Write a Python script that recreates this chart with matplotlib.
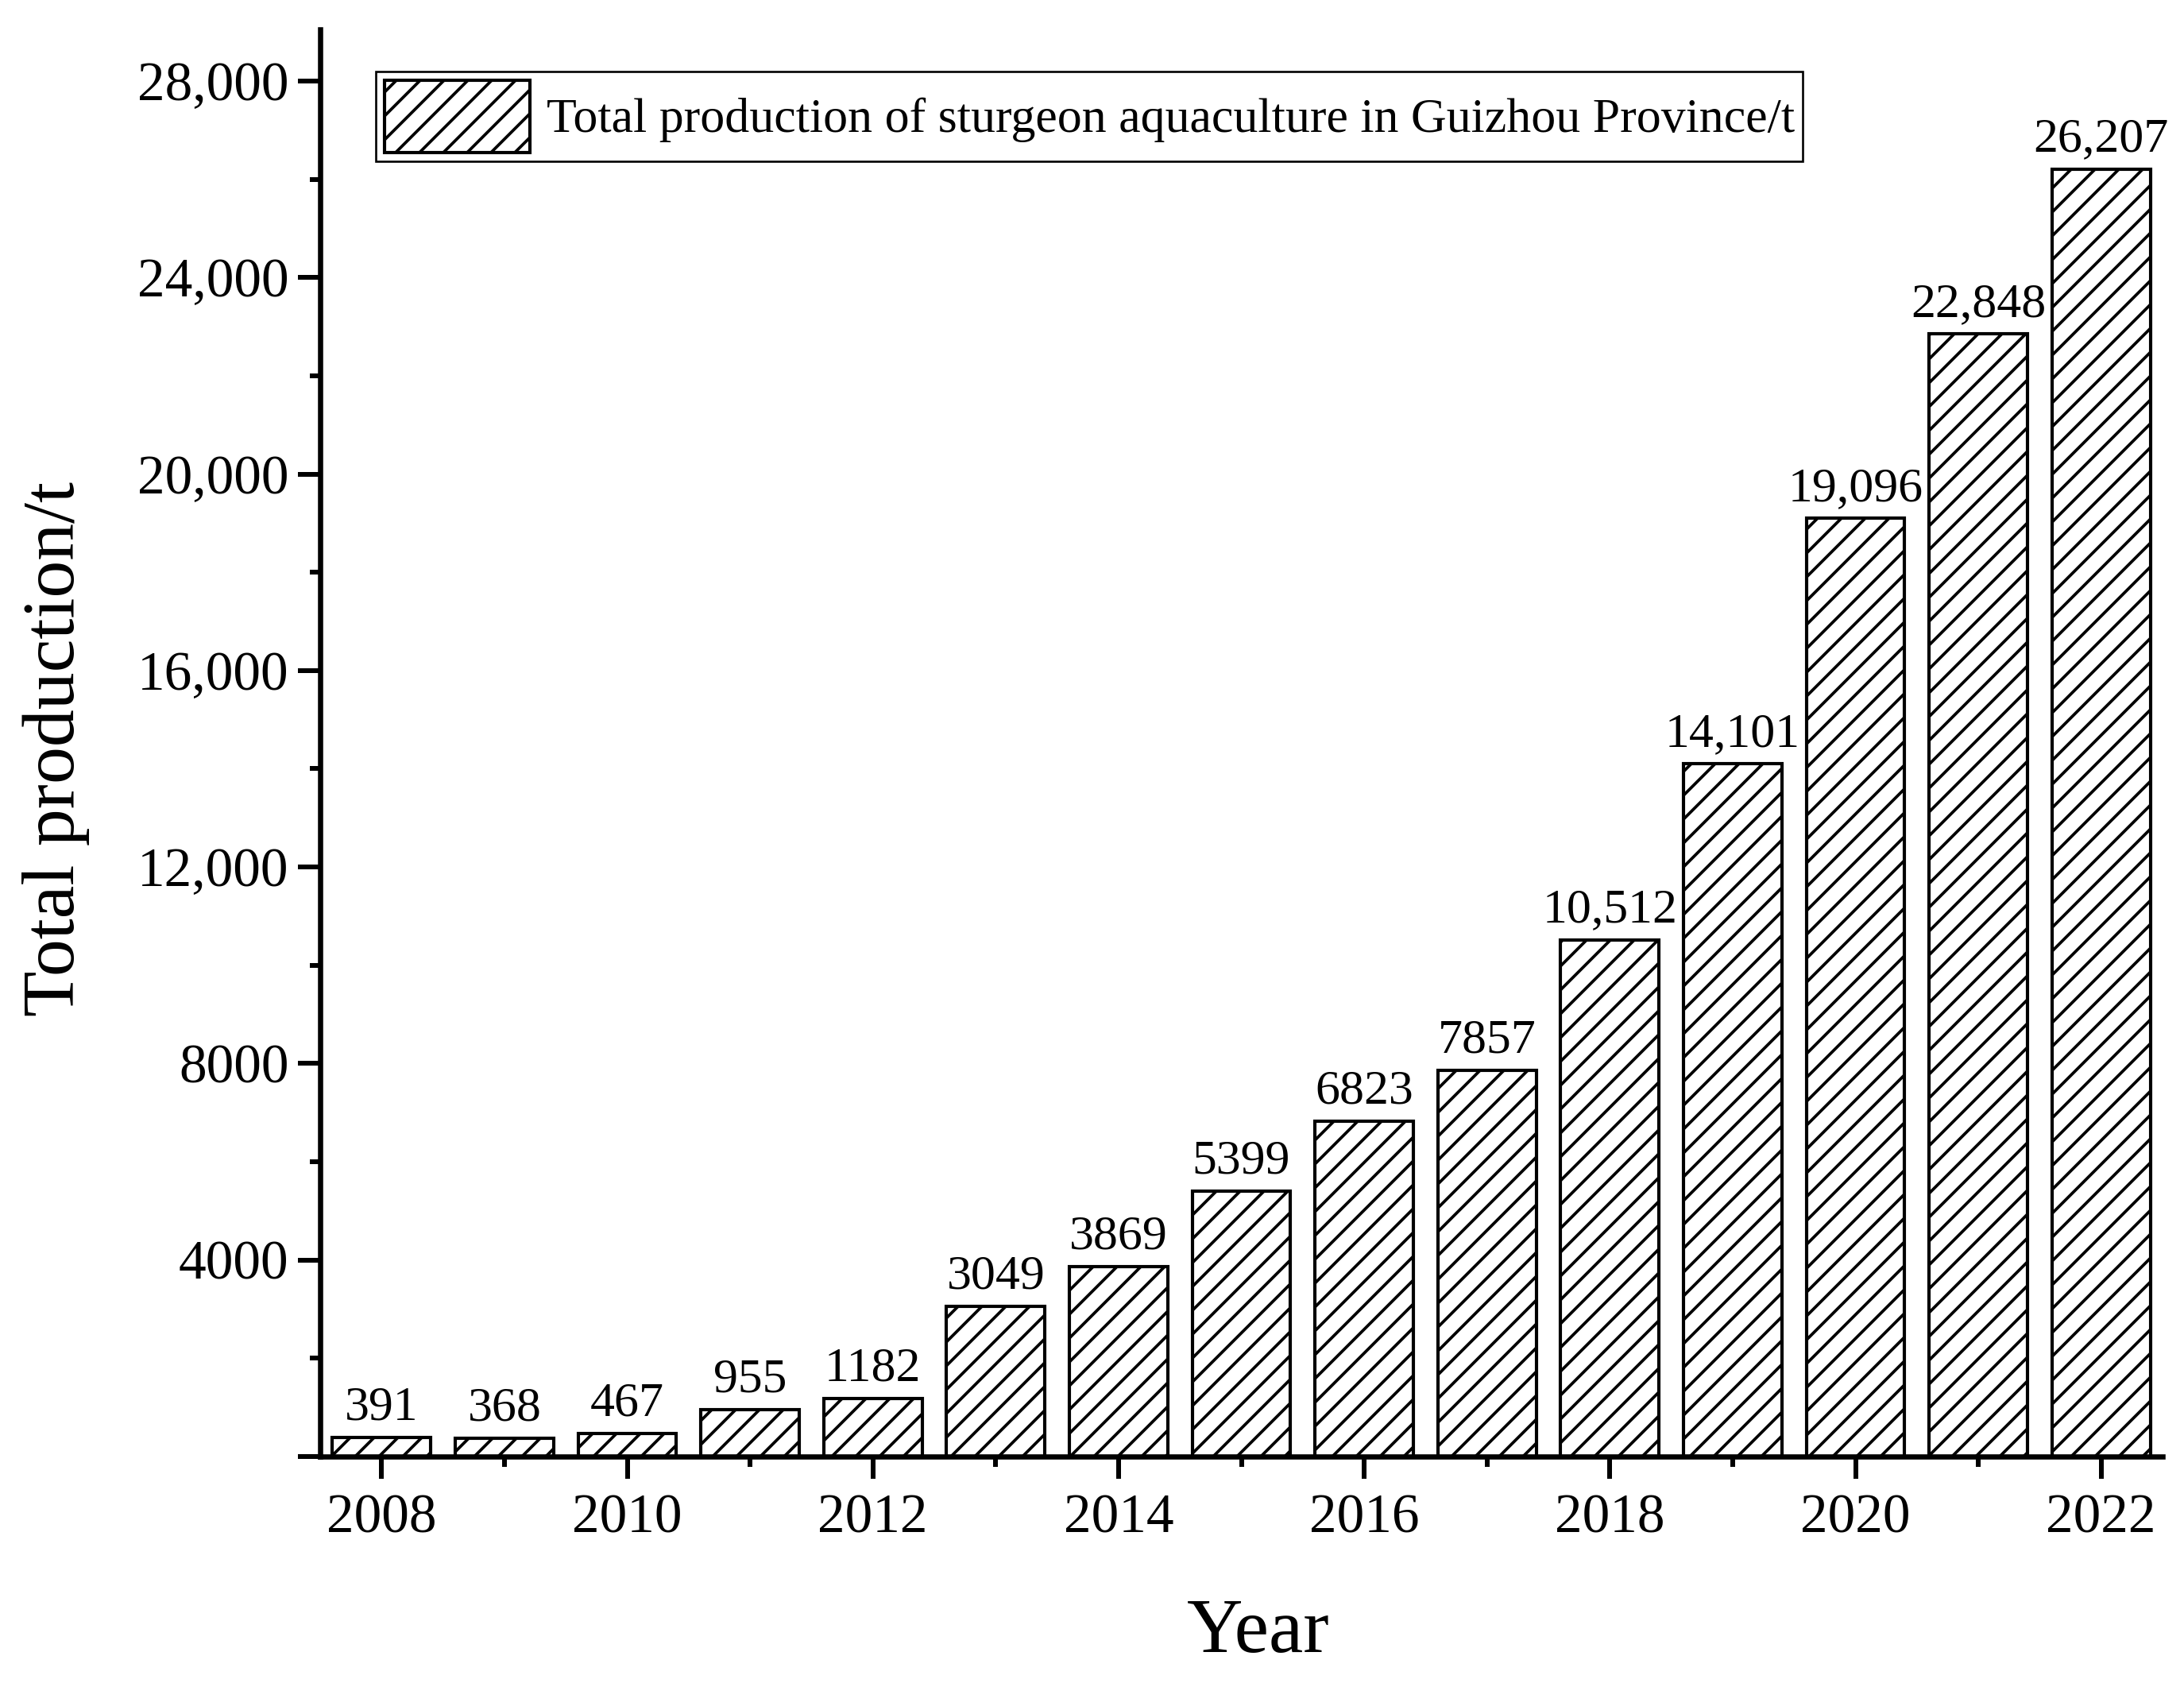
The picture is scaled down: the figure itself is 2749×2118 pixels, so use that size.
import matplotlib
matplotlib.use('Agg')
import matplotlib.pyplot as plt
from matplotlib.ticker import FixedLocator

DPI = 360
K = 270 / DPI  # sizes below were tuned at 270 dpi

plt.rcParams['font.family'] = ['Liberation Serif', 'DejaVu Serif']
plt.rcParams['hatch.linewidth'] = 1.0 * K

# ---- data ----
years = [2008, 2009, 2010, 2011, 2012, 2013, 2014, 2015,
         2016, 2017, 2018, 2019, 2020, 2021, 2022]
production = [391, 368, 467, 955, 1182, 3049, 3869, 5399,
              6823, 7857, 10512, 14101, 19096, 22848, 26207]
bar_labels = ['391', '368', '467', '955', '1182', '3049', '3869', '5399',
              '6823', '7857', '10,512', '14,101', '19,096', '22,848', '26,207']
xtick_years = [2008, 2010, 2012, 2014, 2016, 2018, 2020, 2022]
xminor_years = [2009, 2011, 2013, 2015, 2017, 2019, 2021]
ytick_values = [0, 4000, 8000, 12000, 16000, 20000, 24000, 28000]
ytick_labels = ['', '4000', '8000', '12,000', '16,000', '20,000', '24,000', '28,000']
yminor_values = [2000, 6000, 10000, 14000, 18000, 22000, 26000]
legend_label = 'Total production of sturgeon aquaculture in Guizhou Province/t'
x_label = 'Year'
y_label = 'Total production/t'

W, H = 2749, 2118
fig = plt.figure(figsize=(W / DPI, H / DPI), dpi=DPI)
L, R, B, T = 403, 2722, 1833, 37
ax = fig.add_axes([L / W, 1 - B / H, (R - L) / W, (B - T) / H])

ax.bar(years, production, width=0.8, color='white', edgecolor='black',
       linewidth=1.1 * K, hatch='////', label=legend_label, zorder=2)

for x, v, lab in zip(years, production, bar_labels):
    ax.annotate(lab, (x, v), xytext=(0, 6 * K), textcoords='offset points',
                ha='center', va='baseline', fontsize=16.5 * K)

ax.set_xlim(2007.5, 2022.5)
ax.set_ylim(0, 29050)

ax.xaxis.set_major_locator(FixedLocator(xtick_years))
ax.xaxis.set_minor_locator(FixedLocator(xminor_years))
ax.set_xticklabels([str(y) for y in xtick_years])
ax.yaxis.set_major_locator(FixedLocator(ytick_values))
ax.yaxis.set_minor_locator(FixedLocator(yminor_values))
ax.set_yticklabels(ytick_labels)

for s in ['top', 'right']:
    ax.spines[s].set_visible(False)
for s in ['left', 'bottom']:
    ax.spines[s].set_linewidth(1.75 * K)
    ax.spines[s].set_zorder(3)

ax.tick_params(axis='both', which='major', direction='out', length=7.5 * K,
               width=1.6 * K, labelsize=18.5 * K, pad=3 * K)
ax.tick_params(axis='both', which='minor', direction='out', length=3.4 * K,
               width=1.6 * K)
ax.tick_params(axis='x', which='major', pad=5 * K)

ax.set_xlabel(x_label, fontsize=26 * K, labelpad=18 * K)
ax.xaxis.label.set_x(0.509)
ax.set_ylabel(y_label, fontsize=25 * K, labelpad=16 * K)
ax.yaxis.label.set_y(0.496)

leg = ax.legend(loc='upper left', bbox_to_anchor=(473 / W, 1 - 90 / H),
                bbox_transform=fig.transFigure, borderaxespad=0,
                fancybox=False, edgecolor='black', framealpha=1,
                fontsize=16.5 * K, handlelength=2.97, handleheight=1.91,
                handletextpad=0.33, borderpad=0.17)
leg.get_frame().set_linewidth(0.7 * K)

fig.savefig('out.png', dpi=DPI)
